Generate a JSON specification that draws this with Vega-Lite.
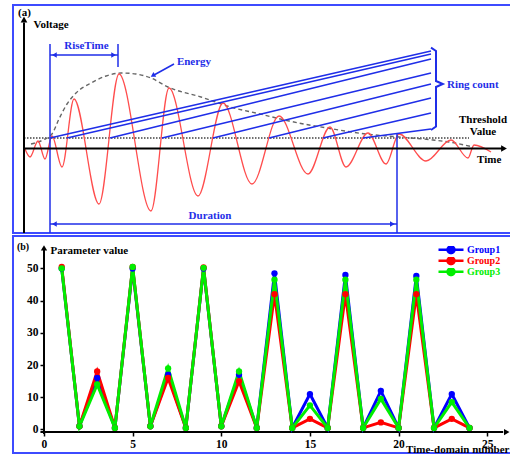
{
  "$schema": "https://vega.github.io/schema/vega-lite/v6.json",
  "padding": {"left": 12, "top": 4, "right": 0, "bottom": 2},
  "autosize": {"type": "pad"},
  "background": "white",
  "spacing": 0,
  "config": {
    "view": {"stroke": "#3d4bff", "strokeWidth": 2},
    "text": {"font": "Liberation Serif", "fontWeight": "bold", "fontSize": 11}
  },
  "resolve": {"scale": {"x": "independent", "y": "independent"}},
  "datasets": {
    "wave": [
      {"t": 0.25, "v": -0.05}, {"t": 1.5, "v": -0.85}, {"t": 3.5, "v": 0.75}, {"t": 5.25, "v": -1.05},
      {"t": 7, "v": 1.25}, {"t": 9.5, "v": -1.85}, {"t": 12.5, "v": 4.95}, {"t": 18.75, "v": -5.55},
      {"t": 23.75, "v": 7.45}, {"t": 31.75, "v": -6.25}, {"t": 36.25, "v": 6.05}, {"t": 43.5, "v": -4.75},
      {"t": 49.75, "v": 4.55}, {"t": 57, "v": -3.55}, {"t": 63.75, "v": 3.25}, {"t": 71, "v": -2.55},
      {"t": 76.5, "v": 2.15}, {"t": 80.5, "v": -1.85}, {"t": 86, "v": 1.55}, {"t": 90.5, "v": -1.55},
      {"t": 93.75, "v": 1.45}, {"t": 100.5, "v": -1.25}, {"t": 106.75, "v": 0.85}, {"t": 111, "v": -0.95},
      {"t": 112.5, "v": 0.35}, {"t": 116.75, "v": -0.35}
    ],
    "envelope": [
      {"t": 1.75, "v": 0.45}, {"t": 4.75, "v": 0.85}, {"t": 7, "v": 1.45}, {"t": 8.75, "v": 2.95},
      {"t": 10.75, "v": 4.45}, {"t": 13, "v": 5.55}, {"t": 16.75, "v": 6.55}, {"t": 20.5, "v": 7.25},
      {"t": 24.25, "v": 7.55}, {"t": 28, "v": 7.45}, {"t": 31.75, "v": 7.05}, {"t": 36, "v": 6.15},
      {"t": 44.25, "v": 5.15}, {"t": 52.5, "v": 4.05}, {"t": 58, "v": 3.55}, {"t": 66.25, "v": 2.75},
      {"t": 77.25, "v": 1.95}, {"t": 85.5, "v": 1.45}, {"t": 93.75, "v": 1.15}, {"t": 102.25, "v": 0.85},
      {"t": 106.25, "v": 0.65}, {"t": 112.25, "v": 0.15}
    ],
    "threshold": [{"t": 0, "v": 1.05}, {"t": 111.25, "v": 1.05}],
    "axes_a": [
      {"t": 0, "v": -8.45, "t2": 0, "v2": 12.6},
      {"t": 0, "v": 0, "t2": 119.5, "v2": 0}
    ],
    "blue_a": [
      {"t": 6.5, "v": -8.45, "t2": 6.5, "v2": 10.45},
      {"t": 23.5, "v": 8.15, "t2": 23.5, "v2": 10.45},
      {"t": 6.5, "v": 9.35, "t2": 23.5, "v2": 9.35},
      {"t": 93.25, "v": 1.45, "t2": 93.25, "v2": -8.45},
      {"t": 6.5, "v": -7.55, "t2": 93.25, "v2": -7.55},
      {"t": 37.5, "v": 8.45, "t2": 32.5, "v2": 7.35}
    ],
    "rings": [
      {"t": 6.5, "v": 1.05, "t2": 101.75, "v2": 9.75},
      {"t": 10.75, "v": 1.05, "t2": 101.75, "v2": 9.45},
      {"t": 21.5, "v": 1.05, "t2": 101.75, "v2": 8.95},
      {"t": 34.5, "v": 1.05, "t2": 101.75, "v2": 7.55},
      {"t": 47.25, "v": 1.05, "t2": 101.75, "v2": 6.45},
      {"t": 61.25, "v": 1.05, "t2": 101.75, "v2": 5.05},
      {"t": 74.75, "v": 1.05, "t2": 101.75, "v2": 3.55},
      {"t": 84.75, "v": 1.05, "t2": 101.75, "v2": 1.95}
    ],
    "brace": [
      {"i": 1, "t": 101.75, "v": 10.08}, {"i": 2, "t": 103, "v": 9.75}, {"i": 3, "t": 103, "v": 6.75},
      {"i": 4, "t": 104.7, "v": 6.45}, {"i": 5, "t": 103, "v": 6.15}, {"i": 6, "t": 103, "v": 2.2},
      {"i": 7, "t": 101.75, "v": 1.85}
    ],
    "arrows_black_a": [{"t": 0, "v": 12.9, "dir": "up"}, {"t": 120, "v": 0, "dir": "right"}],
    "arrows_blue_a": [
      {"t": 7.6, "v": 9.35, "dir": "left"}, {"t": 22.4, "v": 9.35, "dir": "right"},
      {"t": 7.6, "v": -7.55, "dir": "left"}, {"t": 92.1, "v": -7.55, "dir": "right"}
    ],
    "energy_head": [{"t": 32.2, "v": 7.3}],
    "labels_black_a": [
      {"t": 0.1, "v": 13.6, "label": "(a)"},
      {"t": 6.75, "v": 12.4, "label": "Voltage"},
      {"t": 114.75, "v": 2.85, "label": "Threshold"},
      {"t": 114.75, "v": 1.65, "label": "Value"},
      {"t": 116.3, "v": -1.1, "label": "Time"}
    ],
    "labels_blue_a": [
      {"t": 15.6, "v": 10.25, "label": "RiseTime"},
      {"t": 42.5, "v": 8.65, "label": "Energy"},
      {"t": 112.2, "v": 6.35, "label": "Ring count"},
      {"t": 46.5, "v": -6.75, "label": "Duration"}
    ],
    "axes_b": [
      {"x": 0, "y": -1.4, "x2": 0, "y2": 56},
      {"x": -0.2, "y": -0.8, "x2": 25.9, "y2": -0.8}
    ],
    "arrows_b": [{"x": 0, "y": 56.4, "dir": "up"}, {"x": 26.1, "y": -0.8, "dir": "right"}],
    "series": [
      {"x": 1, "group": "Group1", "y": 50}, {"x": 2, "group": "Group1", "y": 1}, {"x": 3, "group": "Group1", "y": 16},
      {"x": 4, "group": "Group1", "y": 0.5}, {"x": 5, "group": "Group1", "y": 50}, {"x": 6, "group": "Group1", "y": 1},
      {"x": 7, "group": "Group1", "y": 17}, {"x": 8, "group": "Group1", "y": 0.5}, {"x": 9, "group": "Group1", "y": 50},
      {"x": 10, "group": "Group1", "y": 1}, {"x": 11, "group": "Group1", "y": 17}, {"x": 12, "group": "Group1", "y": 0.5},
      {"x": 13, "group": "Group1", "y": 48.5}, {"x": 14, "group": "Group1", "y": 0.5}, {"x": 15, "group": "Group1", "y": 11},
      {"x": 16, "group": "Group1", "y": 0.5}, {"x": 17, "group": "Group1", "y": 48}, {"x": 18, "group": "Group1", "y": 0.5},
      {"x": 19, "group": "Group1", "y": 12}, {"x": 20, "group": "Group1", "y": 0.5}, {"x": 21, "group": "Group1", "y": 47.7},
      {"x": 22, "group": "Group1", "y": 0.5}, {"x": 23, "group": "Group1", "y": 11}, {"x": 24, "group": "Group1", "y": 0.5},
      {"x": 1, "group": "Group2", "y": 50.5}, {"x": 2, "group": "Group2", "y": 1}, {"x": 3, "group": "Group2", "y": 18},
      {"x": 4, "group": "Group2", "y": 0.5}, {"x": 5, "group": "Group2", "y": 50.5}, {"x": 6, "group": "Group2", "y": 1},
      {"x": 7, "group": "Group2", "y": 16}, {"x": 8, "group": "Group2", "y": 0.5}, {"x": 9, "group": "Group2", "y": 50.3},
      {"x": 10, "group": "Group2", "y": 1}, {"x": 11, "group": "Group2", "y": 15}, {"x": 12, "group": "Group2", "y": 0.5},
      {"x": 13, "group": "Group2", "y": 42}, {"x": 14, "group": "Group2", "y": 0.5}, {"x": 15, "group": "Group2", "y": 3.3},
      {"x": 16, "group": "Group2", "y": 0.5}, {"x": 17, "group": "Group2", "y": 42}, {"x": 18, "group": "Group2", "y": 0.5},
      {"x": 19, "group": "Group2", "y": 2.2}, {"x": 20, "group": "Group2", "y": 0.5}, {"x": 21, "group": "Group2", "y": 42},
      {"x": 22, "group": "Group2", "y": 0.5}, {"x": 23, "group": "Group2", "y": 3.3}, {"x": 24, "group": "Group2", "y": 0.5},
      {"x": 1, "group": "Group3", "y": 50}, {"x": 2, "group": "Group3", "y": 1}, {"x": 3, "group": "Group3", "y": 14},
      {"x": 4, "group": "Group3", "y": 0.5}, {"x": 5, "group": "Group3", "y": 50.5}, {"x": 6, "group": "Group3", "y": 1},
      {"x": 7, "group": "Group3", "y": 19}, {"x": 8, "group": "Group3", "y": 0.5}, {"x": 9, "group": "Group3", "y": 50.2},
      {"x": 10, "group": "Group3", "y": 1}, {"x": 11, "group": "Group3", "y": 18}, {"x": 12, "group": "Group3", "y": 0.5},
      {"x": 13, "group": "Group3", "y": 46.5}, {"x": 14, "group": "Group3", "y": 0.5}, {"x": 15, "group": "Group3", "y": 7.5},
      {"x": 16, "group": "Group3", "y": 0.5}, {"x": 17, "group": "Group3", "y": 46.5}, {"x": 18, "group": "Group3", "y": 0.5},
      {"x": 19, "group": "Group3", "y": 9.5}, {"x": 20, "group": "Group3", "y": 0.5}, {"x": 21, "group": "Group3", "y": 46.5},
      {"x": 22, "group": "Group3", "y": 0.5}, {"x": 23, "group": "Group3", "y": 8.5}, {"x": 24, "group": "Group3", "y": 0.5}
    ],
    "label_b": [{"x": -1.18, "y": 56.7, "label": "(b)"}]
  },
  "vconcat": [
    {
      "width": 498,
      "height": 228,
      "encoding": {
        "x": {"field": "t", "type": "quantitative", "scale": {"domain": [-2.75, 121.75], "nice": false, "zero": false}, "axis": null},
        "y": {"field": "v", "type": "quantitative", "scale": {"domain": [-8.45, 14.35], "nice": false, "zero": false}, "axis": null}
      },
      "layer": [
        {"data": {"name": "threshold"}, "mark": {"type": "line", "color": "#707070", "strokeWidth": 2.2, "strokeDash": [1.5, 1.5]}},
        {"data": {"name": "envelope"}, "mark": {"type": "line", "color": "#666666", "strokeWidth": 1.4, "strokeDash": [4, 3], "interpolate": "monotone"}},
        {"data": {"name": "wave"}, "mark": {"type": "line", "color": "#ff4d4d", "strokeWidth": 1.3, "interpolate": "monotone"}},
        {"data": {"name": "rings"}, "mark": {"type": "rule", "color": "#1f2ee8", "strokeWidth": 1.6}, "encoding": {"x2": {"field": "t2"}, "y2": {"field": "v2"}}},
        {"data": {"name": "blue_a"}, "mark": {"type": "rule", "color": "#1f2ee8", "strokeWidth": 1.5}, "encoding": {"x2": {"field": "t2"}, "y2": {"field": "v2"}}},
        {"data": {"name": "axes_a"}, "mark": {"type": "rule", "color": "black", "strokeWidth": 2}, "encoding": {"x2": {"field": "t2"}, "y2": {"field": "v2"}}},
        {"data": {"name": "brace"}, "mark": {"type": "line", "color": "#1f2ee8", "strokeWidth": 2}, "encoding": {"order": {"field": "i"}}},
        {"data": {"name": "arrows_black_a"}, "mark": {"type": "point", "filled": true, "color": "black", "opacity": 1, "size": 45},
          "encoding": {"shape": {"field": "dir", "type": "nominal", "scale": {"domain": ["up", "right", "left"], "range": ["triangle-up", "triangle-right", "triangle-left"]}, "legend": null}}},
        {"data": {"name": "arrows_blue_a"}, "mark": {"type": "point", "filled": true, "color": "#1f2ee8", "opacity": 1, "size": 30},
          "encoding": {"shape": {"field": "dir", "type": "nominal", "scale": {"domain": ["up", "right", "left"], "range": ["triangle-up", "triangle-right", "triangle-left"]}, "legend": null}}},
        {"data": {"name": "energy_head"}, "mark": {"type": "point", "filled": true, "color": "#1f2ee8", "opacity": 1, "size": 30, "shape": "triangle-up", "angle": 240}},
        {"data": {"name": "labels_black_a"}, "mark": {"type": "text", "color": "black", "baseline": "middle", "align": "center"}, "encoding": {"text": {"field": "label"}}},
        {"data": {"name": "labels_blue_a"}, "mark": {"type": "text", "color": "#1f2ee8", "baseline": "middle", "align": "center"}, "encoding": {"text": {"field": "label"}}}
      ]
    },
    {
      "width": 498,
      "height": 217,
      "encoding": {
        "x": {"field": "x", "type": "quantitative", "scale": {"domain": [-1.748, 26.34], "nice": false, "zero": false},
          "axis": {"values": [0, 5, 10, 15, 20, 25], "offset": -21, "domain": false, "grid": false, "ticks": true, "tickSize": 4, "tickColor": "black", "tickWidth": 1.5,
            "labelFont": "Liberation Serif", "labelFontWeight": "bold", "labelFontSize": 11.5, "labelColor": "black", "labelPadding": 2, "labelFlush": false,
            "title": "Time-domain number", "titleFont": "Liberation Serif", "titleFontWeight": "bold", "titleFontSize": 11, "titleColor": "black",
            "titleX": 496, "titleY": 17, "titleAlign": "right", "titleBaseline": "middle", "titleAnchor": "end"}},
        "y": {"field": "y", "type": "quantitative", "scale": {"domain": [-7.3, 60.09], "nice": false, "zero": false},
          "axis": {"values": [0, 10, 20, 30, 40, 50], "offset": -31, "domain": false, "grid": false, "ticks": true, "tickSize": 4, "tickColor": "black", "tickWidth": 1.5,
            "labelFont": "Liberation Serif", "labelFontWeight": "bold", "labelFontSize": 11.5, "labelColor": "black", "labelPadding": 2, "labelFlush": false,
            "title": "Parameter value", "titleFont": "Liberation Serif", "titleFontWeight": "bold", "titleFontSize": 11, "titleColor": "black",
            "titleAngle": 0, "titleX": 6, "titleY": 14, "titleAlign": "left", "titleBaseline": "middle", "titleAnchor": "start"}}
      },
      "layer": [
        {"data": {"name": "axes_b"}, "mark": {"type": "rule", "color": "black", "strokeWidth": 2}, "encoding": {"x2": {"field": "x2"}, "y2": {"field": "y2"}}},
        {"data": {"name": "arrows_b"}, "mark": {"type": "point", "filled": true, "color": "black", "opacity": 1, "size": 40},
          "encoding": {"shape": {"field": "dir", "type": "nominal", "scale": {"domain": ["up", "right", "left"], "range": ["triangle-up", "triangle-right", "triangle-left"]}, "legend": null}}},
        {"data": {"name": "series"}, "mark": {"type": "line", "strokeWidth": 3, "point": {"filled": true, "size": 40, "opacity": 1}},
          "encoding": {"color": {"field": "group", "type": "nominal", "scale": {"domain": ["Group1", "Group2", "Group3"], "range": ["#0000ff", "#ff0000", "#00ee00"]},
            "legend": {"orient": "none", "legendX": 424, "legendY": 241, "title": null, "padding": 0, "rowPadding": 0, "clipHeight": 7.5,
              "labelFont": "Liberation Serif", "labelFontWeight": "bold", "labelFontSize": 10, "labelOffset": 2,
              "symbolType": "M-1,0H1M-0.28,0A0.28,0.28,0,1,1,0.28,0A0.28,0.28,0,1,1,-0.28,0Z", "symbolSize": 625, "symbolStrokeWidth": 2.5,
              "encode": {"labels": {"update": {"fill": {"scale": "color", "field": "value"}}}, "symbols": {"update": {"fill": {"scale": "color", "field": "value"}}}}}}}},
        {"data": {"name": "label_b"}, "mark": {"type": "text", "color": "black", "baseline": "middle", "align": "center", "fontSize": 10}, "encoding": {"text": {"field": "label"}}}
      ]
    }
  ]
}
